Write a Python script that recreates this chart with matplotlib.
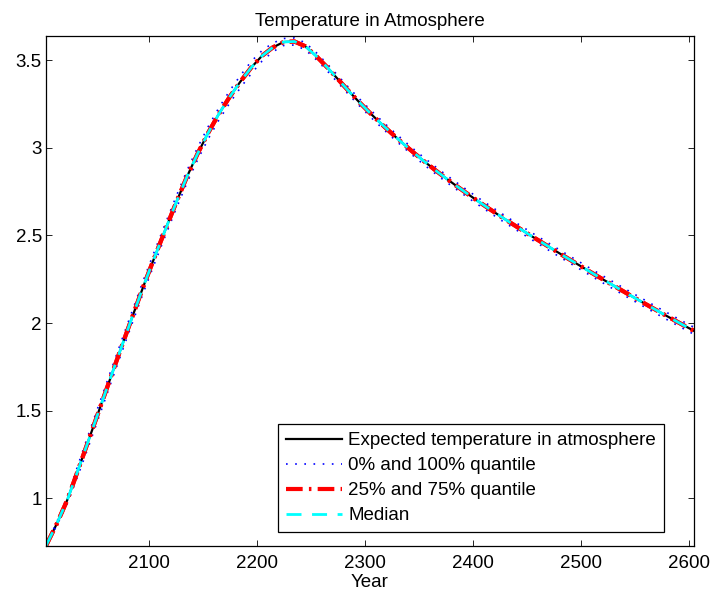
import numpy as np
import matplotlib
matplotlib.use("Agg")
import matplotlib.pyplot as plt

# anos (passo de 10)
years = np.arange(2005, 2606, 10)

# temperatura esperada na atmosfera
temp_expected = [
    0.73, 0.855, 0.995, 1.167, 1.342, 1.517, 1.692, 1.866, 2.037, 2.207,
    2.368, 2.525, 2.680, 2.828, 2.962, 3.084, 3.193, 3.290, 3.378, 3.458,
    3.525, 3.573, 3.604, 3.607, 3.580, 3.525, 3.462, 3.394, 3.326, 3.261,
    3.199, 3.140, 3.083, 3.028, 2.975, 2.924, 2.875, 2.828, 2.783, 2.739,
    2.696, 2.654, 2.613, 2.573, 2.534, 2.495, 2.457, 2.419, 2.381, 2.344,
    2.307, 2.270, 2.234, 2.198, 2.162, 2.127, 2.092, 2.057, 2.023, 1.989,
    1.956,
]

# quantis 0% e 100%
temp_q0 = [
    0.73, 0.845, 0.975, 1.137, 1.307, 1.482, 1.657, 1.831, 2.002, 2.172,
    2.333, 2.490, 2.645, 2.793, 2.927, 3.049, 3.158, 3.255, 3.343, 3.423,
    3.495, 3.548, 3.584, 3.587, 3.560, 3.505, 3.442, 3.374, 3.306, 3.241,
    3.179, 3.120, 3.063, 3.008, 2.955, 2.904, 2.855, 2.808, 2.763, 2.719,
    2.676, 2.634, 2.593, 2.553, 2.514, 2.475, 2.437, 2.399, 2.361, 2.324,
    2.287, 2.250, 2.214, 2.178, 2.142, 2.107, 2.072, 2.037, 2.003, 1.969,
    1.936,
]
temp_q100 = [
    0.73, 0.865, 1.015, 1.197, 1.377, 1.552, 1.727, 1.901, 2.072, 2.242,
    2.403, 2.560, 2.715, 2.863, 2.997, 3.119, 3.228, 3.325, 3.413, 3.493,
    3.555, 3.598, 3.624, 3.627, 3.600, 3.545, 3.482, 3.414, 3.346, 3.281,
    3.219, 3.160, 3.103, 3.048, 2.995, 2.944, 2.895, 2.848, 2.803, 2.759,
    2.716, 2.674, 2.633, 2.593, 2.554, 2.515, 2.477, 2.439, 2.401, 2.364,
    2.327, 2.290, 2.254, 2.218, 2.182, 2.147, 2.112, 2.077, 2.043, 2.009,
    1.976,
]

# quantis 25% / 75% e mediana (praticamente iguais ao valor esperado)
temp_q25 = temp_expected
temp_q75 = temp_expected
temp_median = temp_expected

ytick_vals = [1, 1.5, 2, 2.5, 3, 3.5]
ytick_labels = ["1", "1.5", "2", "2.5", "3", "3.5"]
xtick_vals = [2100, 2200, 2300, 2400, 2500, 2600]

plt.rcParams["font.family"] = ["Liberation Sans", "DejaVu Sans"]
fs = 13.5

fig = plt.figure(figsize=(7.12, 6), dpi=100)
ax = fig.add_axes([0.0646, 0.0905, 0.9101, 0.85])

ax.plot(years, temp_expected, color="black", lw=1.6, label="Expected temperature in atmosphere")
ax.plot(years, temp_q0, color="blue", lw=1.2, ls=(0, (1, 4.5)), label="0% and 100% quantile")
ax.plot(years, temp_q100, color="blue", lw=1.2, ls=(0, (1, 4.5)))
ax.plot(years, temp_q25, color="red", lw=3, ls=(0, (4, 1.5, 0.6, 1.5)), label="25% and 75% quantile")
ax.plot(years, temp_q75, color="red", lw=3, ls=(0, (4, 1.5, 0.6, 1.5)))
ax.plot(years, temp_median, color="cyan", lw=2, ls=(0, (5.4, 3.8)), label="Median")

ax.set_xlim(2005, 2605)
ax.set_ylim(0.73, 3.64)
ax.set_xticks(xtick_vals)
ax.set_yticks(ytick_vals)
ax.set_yticklabels(ytick_labels)
ax.tick_params(direction="in", length=4.5, width=0.6, top=True, right=True, labelsize=fs)
ax.tick_params(axis="x", pad=7)
ax.tick_params(axis="y", pad=3)
for s in ax.spines.values():
    s.set_linewidth(0.9)

ax.set_title("Temperature in Atmosphere", fontsize=fs, pad=7)
ax.set_xlabel("Year", fontsize=fs, labelpad=1)

leg = ax.legend(loc="lower right", bbox_to_anchor=(0.9537, 0.0269), borderaxespad=0,
                fontsize=fs, fancybox=False, framealpha=1, edgecolor="black",
                handlelength=3.0, handletextpad=0.35, labelspacing=0.42, borderpad=0.42)
leg.get_frame().set_linewidth(0.9)

fig.savefig("out.png", dpi=100)
